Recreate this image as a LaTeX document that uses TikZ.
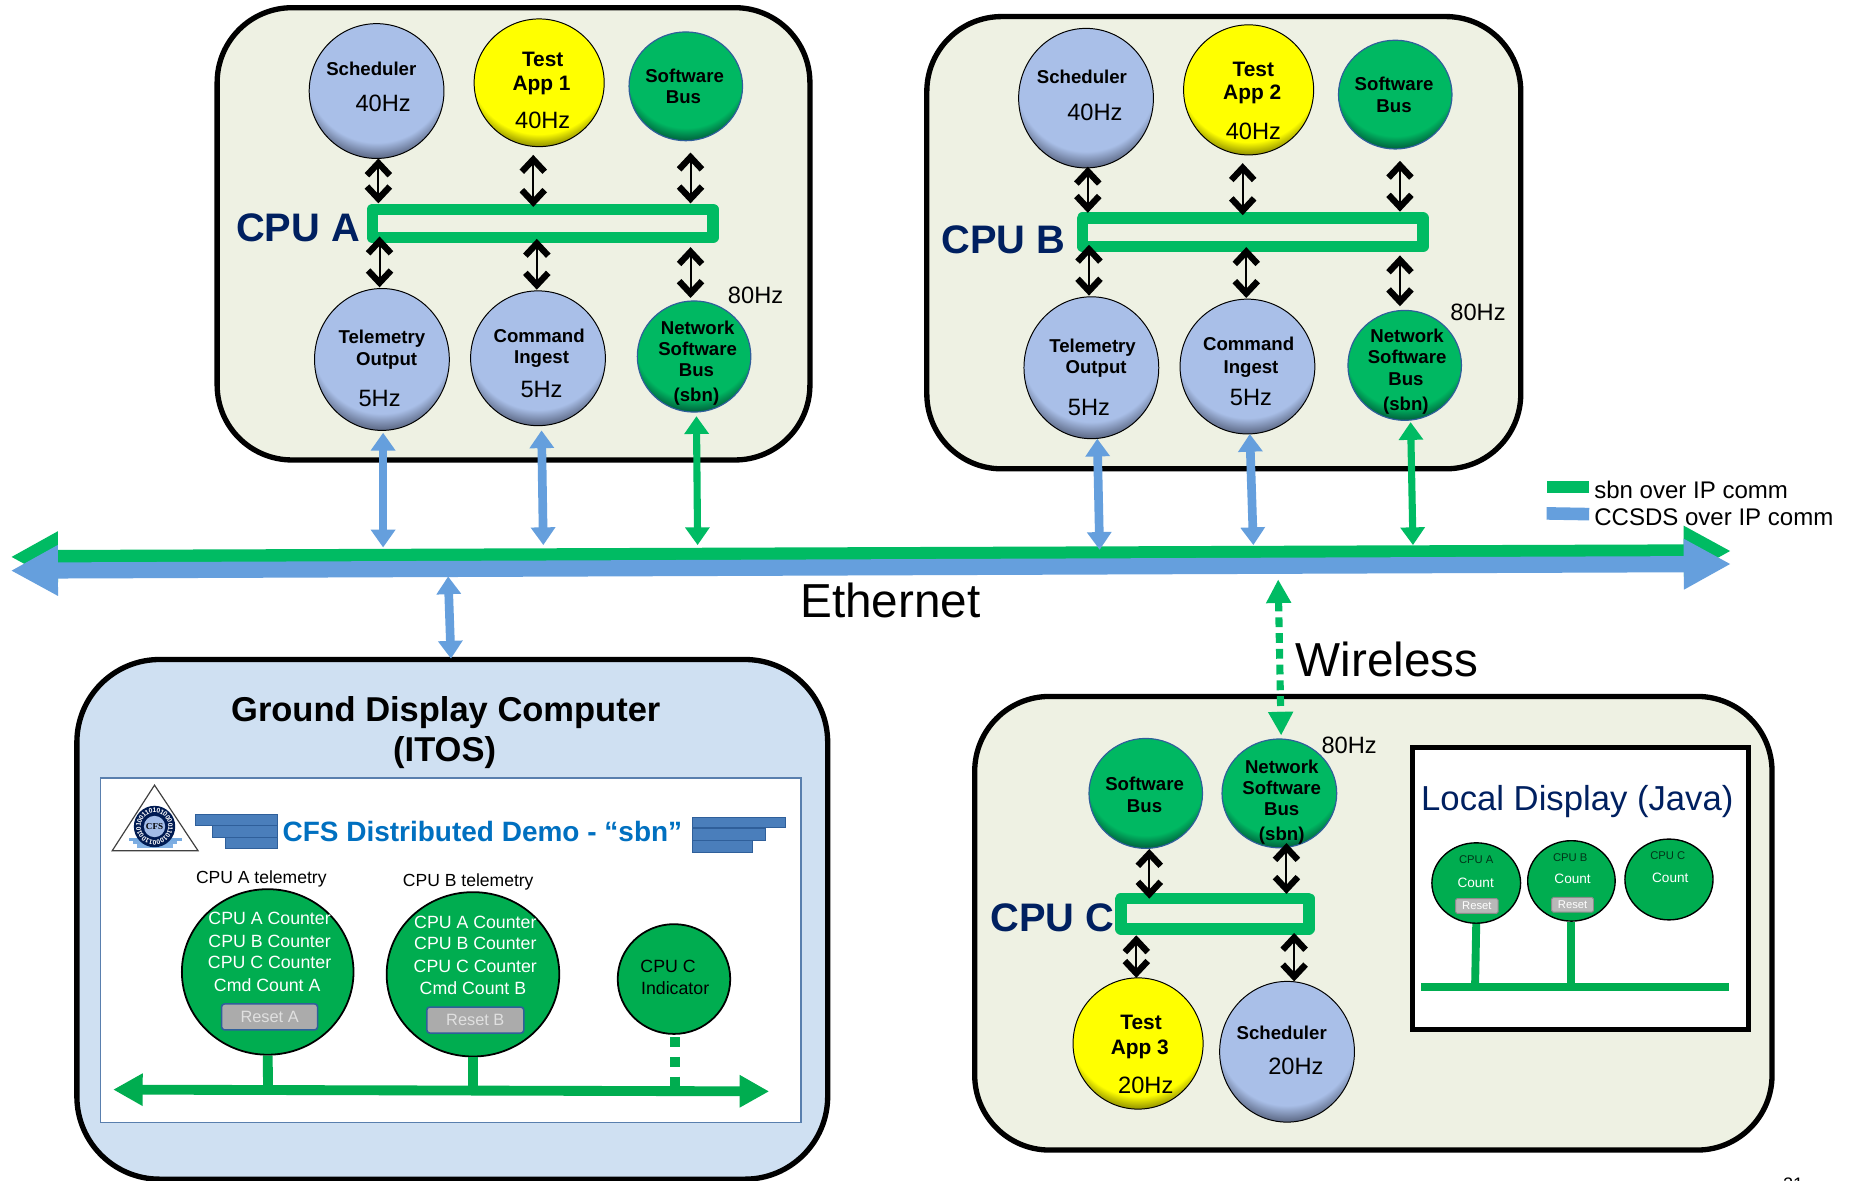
\documentclass[tikz,border=0pt]{standalone}
\usepackage{fontspec}
\setmainfont{Liberation Sans}
\newfontfamily\logofont{Liberation Serif}
\usetikzlibrary{arrows.meta,shapes.geometric}
\definecolor{boxbg}{HTML}{EEF1E3}
\definecolor{grndbg}{HTML}{CFE0F2}
\definecolor{sbngreen}{HTML}{00BB63}
\definecolor{ccsds}{HTML}{659FDD}
\definecolor{navy}{HTML}{002060}
\definecolor{demoblue}{HTML}{0070C0}
\definecolor{screeng}{HTML}{00AD50}
\definecolor{stack}{HTML}{4A7EBB}
\definecolor{stackd}{HTML}{2F5F9A}
\definecolor{cblue}{HTML}{A9BFE8}
\definecolor{cbluex}{HTML}{5A6682}
\definecolor{cyel}{HTML}{FFFF00}
\definecolor{cyelx}{HTML}{8F8F00}
\definecolor{cgrn}{HTML}{00B862}
\definecolor{cgrnx}{HTML}{00603C}
\pgfdeclareradialshading{bluesh}{\pgfpoint{0bp}{15bp}}{color(0bp)=(cblue); color(26.2bp)=(cblue); color(30.8bp)=(cbluex); color(50bp)=(cbluex)}
\pgfdeclareradialshading{yelsh}{\pgfpoint{0bp}{15bp}}{color(0bp)=(cyel); color(27bp)=(cyel); color(30.8bp)=(cyelx); color(50bp)=(cyelx)}
\pgfdeclareradialshading{grnsh}{\pgfpoint{0bp}{15bp}}{color(0bp)=(cgrn); color(26.2bp)=(cgrn); color(30.8bp)=(cgrnx); color(50bp)=(cgrnx)}
\tikzset{
  cpubox/.style={draw=black,line width=2.7pt,fill=boxbg,rounded corners=38pt,inner sep=0pt},
  grndbox/.style={draw=black,line width=2.7pt,fill=grndbg,rounded corners=42pt,inner sep=0pt},
  busbar/.style={draw=sbngreen,line width=5.8pt,line join=round,inner sep=0pt},
  orb/.style={ellipse,inner sep=0pt,draw=black,line width=.5pt,shade},
  bluorb/.style={orb,shading=bluesh},
  yelorb/.style={orb,shading=yelsh},
  grnorb/.style={orb,draw=stackd,line width=.6pt,shading=grnsh},
  scrorb/.style={ellipse,inner sep=0pt,draw=black,line width=.9pt,fill=screeng},
  txt/.style={inner sep=0pt,align=center},
  lbl/.style={txt,text height=6.9pt,text depth=0pt,font=\fontsize{9.45}{11}\selectfont\bfseries},
  lblb/.style={txt,text height=7.7pt,text depth=0pt,font=\fontsize{10.6}{12}\selectfont\bfseries},
  hz/.style={txt,font=\fontsize{12}{14}\selectfont},
  cpuname/.style={txt,text=navy,font=\fontsize{20.2}{24}\selectfont\bfseries},
  bigt/.style={txt,font=\fontsize{24.2}{28}\selectfont},
  gtitle/.style={txt,text height=12.7pt,text depth=0pt,font=\fontsize{17.5}{21}\selectfont\bfseries},
  demot/.style={txt,text=demoblue,font=\fontsize{14.2}{17}\selectfont\bfseries},
  telt/.style={txt,text height=6.5pt,text depth=0pt,font=\fontsize{8.9}{11}\selectfont},
  cnt/.style={txt,text=white,font=\fontsize{9}{11}\selectfont},
  blk/.style={txt,font=\fontsize{9}{11}\selectfont},
  legt/.style={txt,font=\fontsize{12.2}{14}\selectfont,anchor=west},
  loct/.style={txt,text=navy,text height=12.9pt,text depth=0pt,font=\fontsize{17.6}{21}\selectfont},
  tiny1/.style={txt,text=black!70!screeng,font=\fontsize{5.7}{7}\selectfont},
  tiny2/.style={txt,text=white,font=\fontsize{6.9}{8}\selectfont},
  pagenum/.style={txt,anchor=north,text height=6.6pt,text depth=0pt,font=\fontsize{9.2}{11}\selectfont},
  resetbtn/.style={draw=stackd,line width=.8pt,fill=black!33,rounded corners=1.5pt,inner sep=0pt,text=white!88!black,font=\fontsize{8.3}{10}\selectfont},
  resetsm/.style={draw=black!45,line width=.5pt,fill=black!28,rounded corners=.8pt,inner sep=0pt,text=white,font=\fontsize{5.7}{7}\selectfont},
  barbarrow/.style={draw=black,line width=1pt,{Straight Barb[length=6.2pt,width=11.6pt,line width=3.2pt]}-{Straight Barb[length=6.2pt,width=11.6pt,line width=3.2pt]}},
  bluearrow/.style={draw=ccsds,line width=4.4pt,{Triangle[length=9pt,width=12pt]}-{Triangle[length=9pt,width=12pt]}},
  greenarrow/.style={draw=sbngreen,line width=3.6pt,{Triangle[length=9pt,width=12pt]}-{Triangle[length=9pt,width=12pt]}},
  wirelessarrow/.style={draw=sbngreen,line width=3.6pt,dash pattern=on 5pt off 3pt,{Triangle[length=12pt,width=12pt]}-{Triangle[length=12pt,width=12pt]}},
  ethgreen/.style={draw=sbngreen,line width=6.9pt,{Triangle[length=24pt,width=24pt]}-{Triangle[length=24pt,width=24pt]}},
  ethblue/.style={draw=ccsds,line width=8.2pt,{Triangle[length=24pt,width=24pt]}-{Triangle[length=24pt,width=24pt]}},
  scrbus/.style={draw=screeng,line width=5pt,{Triangle[length=15pt,width=15.5pt]}-{Triangle[length=15pt,width=15.5pt]}},
  stub/.style={draw=screeng,line width=5pt},
  dstub/.style={draw=screeng,line width=5pt,dash pattern=on 5pt off 5pt},
  smstub/.style={draw=screeng,line width=4pt},
  stackbar/.style={draw=stackd,line width=.5pt,fill=stack},
  bitdigit/.style={inner sep=0pt,text=white,font=\fontsize{3.4}{4}\selectfont\bfseries},
}
\newcommand{\tx}[4]{\node[#2] (#1) at (#3) {#4};}
\newcommand{\orbn}[5]{\node[#2,minimum width=#4*1.2pt,minimum height=#5*1.2pt] (#1) at (#3) {};}
\newcommand{\conn}[4]{\coordinate (#2-a) at (#3); \coordinate (#2-b) at (#4); \draw[#1] (#2-a) -- (#2-b);}
\begin{document}
\begin{tikzpicture}[x=.6pt,y=-.6pt]
\useasboundingbox (0,0) rectangle (1568,998.8);
\fill[white] (0,0) rectangle (1568,998.8);

%%% boxes
\node[cpubox,minimum width=300.8pt,minimum height=229.5pt] (boxA) at (434.3,197.75) {};
\node[cpubox,minimum width=301.4pt,minimum height=229.5pt] (boxB) at (1035,205.25) {};
\node[cpubox,minimum width=404.6pt,minimum height=230.2pt] (boxC) at (1161.5,780.8) {};
\node[grndbox,minimum width=381pt,minimum height=263.7pt] (boxG) at (382.5,777.5) {};

%%% CPU A
\node[busbar,minimum width=172.8pt,minimum height=14.4pt] (barA) at (459,189) {};
\orbn{aSch}{bluorb}{318.5,77}{57}{57}
\orbn{aTest}{yelorb}{456,70}{55}{54}
\orbn{aSB}{grnorb}{580,73}{48}{46}
\orbn{aTlm}{bluorb}{323,304}{57}{60}
\orbn{aCmd}{bluorb}{455,303}{57}{57}
\orbn{aNSB}{grnorb}{587,301.5}{48}{47}
\tx{tA}{cpuname}{252,193}{CPU A}
\tx{t1}{lbl}{314,58}{Scheduler}
\tx{t2}{hz}{324,87}{40Hz}
\tx{t3}{lblb}{459,50}{Test}
\tx{t4}{lblb}{458,70}{App 1}
\tx{t5}{hz}{459,102}{40Hz}
\tx{t6}{lbl}{579,64}{Software}
\tx{t7}{lbl}{578,82}{Bus}
\tx{t8}{hz}{639,250}{80Hz}
\tx{t9}{lbl}{323,285}{Telemetry}
\tx{t10}{lbl}{327,303}{Output}
\tx{t11}{hz}{321,337}{5Hz}
\tx{t12}{lbl}{456,284}{Command}
\tx{t13}{lbl}{458,302}{Ingest}
\tx{t14}{hz}{458,329}{5Hz}
\tx{t15}{lbl}{590,277}{Network}
\tx{t16}{lbl}{590,295}{Software}
\tx{t17}{lbl}{589,313}{Bus}
\tx{t18}{lbl}{589,334}{(sbn)}
\conn{barbarrow}{a1}{320,134}{320,172}
\conn{barbarrow}{a2}{451,131}{451,175}
\conn{barbarrow}{a3}{584,129}{584,172}
\conn{barbarrow}{a4}{321,200}{321,243}
\conn{barbarrow}{a5}{454,202}{454,245}
\conn{barbarrow}{a6}{584,209}{584,252}

%%% CPU B
\node[busbar,minimum width=172.8pt,minimum height=14.4pt] (barB) at (1059.5,196.5) {};
\orbn{bSch}{bluorb}{918.5,83}{57}{59}
\orbn{bTest}{yelorb}{1056,76}{55}{55}
\orbn{bSB}{grnorb}{1180,80}{48}{46}
\orbn{bTlm}{bluorb}{923,311}{57}{60}
\orbn{bCmd}{bluorb}{1055,310}{57}{57}
\orbn{bNSB}{grnorb}{1188,309}{48}{46.5}
\tx{tB}{cpuname}{848.5,203}{CPU B}
\tx{u1}{lbl}{915,65}{Scheduler}
\tx{u2}{hz}{926,95}{40Hz}
\tx{u3}{lblb}{1060,58}{Test}
\tx{u4}{lblb}{1059,78}{App 2}
\tx{u5}{hz}{1060,111}{40Hz}
\tx{u6}{lbl}{1179,71}{Software}
\tx{u7}{lbl}{1179,89}{Bus}
\tx{u8}{hz}{1250,264}{80Hz}
\tx{u9}{lbl}{924,292}{Telemetry}
\tx{u10}{lbl}{927,310}{Output}
\tx{u11}{hz}{921,345}{5Hz}
\tx{u12}{lbl}{1056,291}{Command}
\tx{u13}{lbl}{1058,310}{Ingest}
\tx{u14}{hz}{1058,336}{5Hz}
\tx{u15}{lbl}{1190,284}{Network}
\tx{u16}{lbl}{1190,302}{Software}
\tx{u17}{lbl}{1189,320}{Bus}
\tx{u18}{lbl}{1189,341}{(sbn)}
\conn{barbarrow}{b1}{920,141}{920,180}
\conn{barbarrow}{b2}{1051,138}{1051,182}
\conn{barbarrow}{b3}{1184,136}{1184,179}
\conn{barbarrow}{b4}{921,207}{921,250}
\conn{barbarrow}{b5}{1054,209}{1054,252}
\conn{barbarrow}{b6}{1184,216}{1184,259}

%%% Ethernet
\conn{ethgreen}{eg}{9,471}{1464,466}
\conn{ethblue}{eb}{9,482.6}{1464,477}
\conn{bluearrow}{v1}{324,366}{324,463}
\conn{bluearrow}{v2}{458,364}{459.5,461}
\conn{greenarrow}{v3}{589,352}{590,461}
\conn{bluearrow}{v4}{928,371}{930,465}
\conn{bluearrow}{v5}{1057,367}{1060,461}
\conn{greenarrow}{v6}{1193,357}{1195,461}
\conn{bluearrow}{v7}{379,487.5}{381.4,557}
\conn{wirelessarrow}{v8}{1081,490}{1083.5,622}
\tx{eth}{bigt}{753,508}{Ethernet}
\tx{wls}{bigt}{1173,558}{Wireless}

%%% legend
\node[fill=sbngreen,minimum width=21.6pt,minimum height=6pt,inner sep=0pt] (lg1) at (1326,412) {};
\node[fill=ccsds,minimum width=21.6pt,minimum height=6.4pt,inner sep=0pt,rotate=-1] (lg2) at (1326,434.5) {};
\tx{lt1}{legt}{1348,414}{sbn over IP comm}
\tx{lt2}{legt}{1348,437}{CCSDS over IP comm}

%%% Ground display
\tx{g1}{gtitle}{377,600}{Ground Display Computer}
\tx{g2}{gtitle}{376,633.5}{(ITOS)}
\node[draw=stackd!80,line width=.7pt,fill=white,minimum width=355.5pt,minimum height=174.9pt,inner sep=0pt] (panel) at (381.2,803.7) {};
% logo
\coordinate (lg-t) at (130.7,664); \coordinate (lg-l) at (94.9,719.5); \coordinate (lg-r) at (167.5,719.5);
\draw[black!75,line width=.6pt,fill=white] (lg-t) -- (lg-l) -- (lg-r) -- cycle;
\fill[ccsds!90] (109,708.5) rectangle (154,711.5);
\fill[ccsds!85] (112.5,711.5) rectangle (150,714);
\fill[ccsds!80] (115.6,714) rectangle (146.3,717);
\node[circle,fill=navy!85!black,minimum size=21pt,inner sep=0pt] (logoR) at (130.7,699) {};
\foreach \d [count=\i] in {0,1,0,0,0,0,1,1,0,1,0,0,0,1,1,0,0,1,0,1,0,0,1,1,0,1}{
  \pgfmathsetmacro\ang{90-\i*360/26}
  \pgfmathsetmacro\rot{\ang-90}
  \node[bitdigit,rotate=\rot] (bit\i) at ({130.7+13.6*cos(\ang)},{699-13.6*sin(\ang)}) {\d};
}
\node[circle,fill=cblue!90!ccsds,minimum size=10.8pt,inner sep=0pt,font=\logofont\fontsize{4.6}{5}\selectfont\bfseries] (logoC) at (130.7,699) {CFS};
% stacks
\draw[stackbar] (191,708.5) rectangle (235,718);
\draw[stackbar] (180,698.5) rectangle (235,708);
\draw[stackbar] (165,688.8) rectangle (235,698);
\draw[stackbar] (586,711) rectangle (636,721);
\draw[stackbar] (586,701) rectangle (647.5,710.5);
\draw[stackbar] (586,691) rectangle (664,700);
\tx{demo}{demot}{408,703}{CFS Distributed Demo - “sbn”}
\tx{tl1}{telt}{221,742}{CPU A telemetry}
\tx{tl2}{telt}{396,744}{CPU B telemetry}
% bus
\conn{scrbus}{gbus}{95.7,921.5}{650.5,923}
\node[scrorb,minimum width=87.1pt,minimum height=84pt] (gA) at (226.4,822) {};
\node[scrorb,minimum width=87.6pt,minimum height=83.4pt] (gB) at (400,824) {};
\node[scrorb,minimum width=57.1pt,minimum height=55.7pt] (gC) at (570,828) {};
\coordinate (gAb) at (226.7,921); \coordinate (gBb) at (400,921); \coordinate (gCb) at (571,919);
\draw[stub] (gA.south) -- (gAb);
\draw[stub] (gB.south) -- (gBb);
\draw[dstub] (gC.south) ++(1,2) -- (gCb);
\tx{c1}{cnt}{228,777}{CPU A Counter}
\tx{c2}{cnt}{228,796}{CPU B Counter}
\tx{c3}{cnt}{228,814}{CPU C Counter}
\tx{c4}{cnt}{226,833}{Cmd Count A}
\node[resetbtn,minimum width=48.7pt,minimum height=13.2pt] (rA) at (228,860) {Reset A};
\tx{d1}{cnt}{402,780}{CPU A Counter}
\tx{d2}{cnt}{402,798}{CPU B Counter}
\tx{d3}{cnt}{402,817}{CPU C Counter}
\tx{d4}{cnt}{400,836}{Cmd Count B}
\node[resetbtn,minimum width=49.2pt,minimum height=13.2pt] (rB) at (402,862.7) {Reset B};
\tx{e1}{blk}{565,817}{CPU C}
\tx{e2}{blk}{571,836}{Indicator}

%%% CPU C
\node[busbar,minimum width=95.4pt,minimum height=15.3pt] (barC) at (1027.5,772.75) {};
\orbn{cSB}{grnorb}{969,671}{48}{46.5}
\orbn{cNSB}{grnorb}{1082,671}{48.5}{46}
\orbn{cTest}{yelorb}{962.5,882.5}{55}{55.5}
\orbn{cSch}{bluorb}{1088.5,889.5}{57}{59.5}
\tx{tC}{cpuname}{890,776}{CPU C}
\tx{w1}{lbl}{968,663}{Software}
\tx{w2}{lbl}{968,681}{Bus}
\tx{w3}{lbl}{1084,648}{Network}
\tx{w4}{lbl}{1084,666}{Software}
\tx{w5}{lbl}{1084,684}{Bus}
\tx{w6}{lbl}{1084,705}{(sbn)}
\tx{w7}{lblb}{965,864}{Test}
\tx{w8}{lblb}{964,885}{App 3}
\tx{w9}{hz}{969,918}{20Hz}
\tx{w10}{lbl}{1084,873}{Scheduler}
\tx{w11}{hz}{1096,902}{20Hz}
\tx{w12}{hz}{1141,630}{80Hz}
\conn{barbarrow}{c1a}{972,718}{972,760}
\conn{barbarrow}{c2a}{1088,713}{1088,756}
\conn{barbarrow}{c3a}{961,791}{961,827}
\conn{barbarrow}{c4a}{1094.5,789}{1094.5,830}

%%% Local display
\node[draw=black,line width=2.6pt,fill=white,minimum width=170.4pt,minimum height=143pt,inner sep=0pt] (loc) at (1336.6,751.2) {};
\tx{lc}{loct}{1334,675}{Local Display (Java)}
\coordinate (lbusl) at (1202,835); \coordinate (lbusr) at (1462,835);
\draw[smstub] (lbusl) -- (lbusr);
\node[scrorb,line width=.7pt,minimum width=45pt,minimum height=40.8pt] (lA) at (1248.5,746.8) {};
\node[scrorb,line width=.7pt,minimum width=44.4pt,minimum height=40.8pt] (lB) at (1329,745) {};
\node[scrorb,line width=.7pt,minimum width=44.7pt,minimum height=41pt] (lC) at (1411.5,743.8) {};
\coordinate (lAb) at (1247.5,835); \coordinate (lBb) at (1329,835);
\draw[smstub] (lA.south) -- (lAb);
\draw[smstub] (lB.south) -- (lBb);
\tx{m1}{tiny1}{1248.5,726.6}{CPU A}
\tx{m2}{tiny2}{1248,746.5}{Count}
\node[resetsm,minimum width=21.6pt,minimum height=7.5pt] (mr1) at (1249,766.2) {Reset};
\tx{m3}{tiny1}{1328,725.6}{CPU B}
\tx{m4}{tiny2}{1330,743.4}{Count}
\node[resetsm,minimum width=21.2pt,minimum height=7.5pt] (mr2) at (1330,765.2) {Reset};
\tx{m5}{tiny1}{1410.5,723.4}{CPU C}
\tx{m6}{tiny2}{1412.6,742.6}{Count}

%%% page number (cut by the page edge)
\tx{pn}{pagenum}{1516.5,995.5}{21}
\end{tikzpicture}
\end{document}
